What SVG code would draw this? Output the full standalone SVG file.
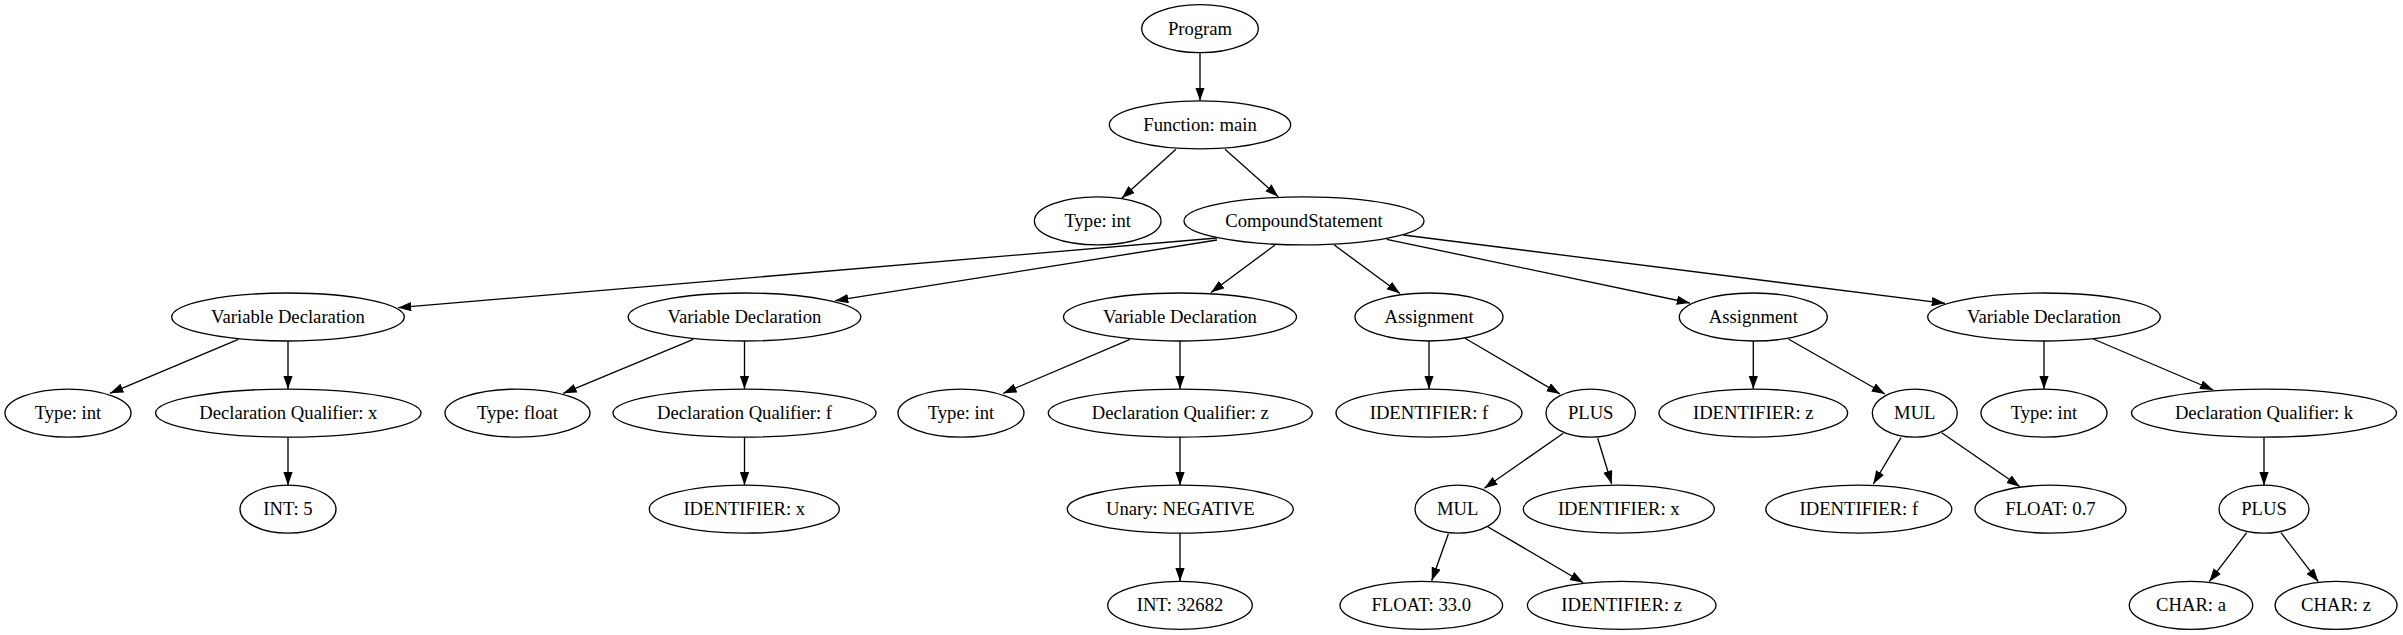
<svg xmlns="http://www.w3.org/2000/svg" width="2403" height="635" viewBox="0 0 2403 635">
<style>
.n ellipse{fill:none;stroke:#000;stroke-width:1.33}
.n text{font-family:"Liberation Serif","Times New Roman",serif;font-size:18.67px;text-anchor:middle;fill:#000}
.e line{stroke:#000;stroke-width:1.33;marker-end:url(#ah)}
</style>
<defs>
<marker id="ah" markerUnits="userSpaceOnUse" markerWidth="16" markerHeight="12" refX="13.3" refY="4.67" orient="auto">
<path d="M0,0 L13.3,4.67 L0,9.33 z" fill="#000"/>
</marker>
</defs>
<rect width="2403" height="635" fill="#fff"/>
<g id="edges" class="e">
<line x1="1200" y1="52.7" x2="1200" y2="100.8"/>
<line x1="1176" y1="149.3" x2="1121.7" y2="198.3"/>
<line x1="1225" y1="149.3" x2="1278.3" y2="196.7"/>
<line x1="1217" y1="238" x2="398" y2="307.7"/>
<line x1="1217" y1="240" x2="835" y2="300.7"/>
<line x1="1275" y1="245" x2="1211" y2="292.5"/>
<line x1="1334.3" y1="245" x2="1400" y2="293.5"/>
<line x1="1386.7" y1="239.3" x2="1690" y2="303"/>
<line x1="1403.3" y1="235" x2="1945" y2="303.3"/>
<line x1="238.3" y1="339.3" x2="110" y2="393.3"/>
<line x1="288" y1="341" x2="288" y2="389.1"/>
<line x1="288" y1="437.1" x2="288" y2="485.2"/>
<line x1="693.3" y1="339.3" x2="563.3" y2="393.3"/>
<line x1="744.5" y1="341" x2="744.5" y2="389.1"/>
<line x1="744.5" y1="437.1" x2="744.5" y2="485.2"/>
<line x1="1130" y1="339.3" x2="1003.3" y2="393.3"/>
<line x1="1180" y1="341" x2="1180" y2="389.1"/>
<line x1="1180" y1="437.1" x2="1180" y2="485.2"/>
<line x1="1180" y1="533.2" x2="1180" y2="581.3"/>
<line x1="1429" y1="341" x2="1429" y2="389.1"/>
<line x1="1465" y1="338.3" x2="1560" y2="394"/>
<line x1="1563.3" y1="433.3" x2="1484.3" y2="488.3"/>
<line x1="1597.7" y1="438.3" x2="1611.7" y2="484"/>
<line x1="1448.3" y1="534" x2="1431.7" y2="580.7"/>
<line x1="1487.7" y1="526.7" x2="1583.3" y2="582.7"/>
<line x1="1753.3" y1="341" x2="1753.3" y2="389.1"/>
<line x1="1788.3" y1="339" x2="1885" y2="394"/>
<line x1="1901" y1="437.7" x2="1873.3" y2="484"/>
<line x1="1941.7" y1="432.7" x2="2020" y2="486.7"/>
<line x1="2044" y1="341" x2="2044" y2="389.1"/>
<line x1="2093.3" y1="339" x2="2213.3" y2="390"/>
<line x1="2264" y1="437.1" x2="2264" y2="485.2"/>
<line x1="2246.7" y1="532.7" x2="2209.3" y2="581.7"/>
<line x1="2281" y1="532.7" x2="2318.3" y2="581.7"/>
</g>
<g id="program" class="n"><ellipse cx="1200" cy="28.7" rx="58.3" ry="24"/><text x="1200" y="34.7">Program</text></g>
<g id="function_main" class="n"><ellipse cx="1200" cy="124.8" rx="90.7" ry="24"/><text x="1200" y="130.8">Function: main</text></g>
<g id="type_int_main" class="n"><ellipse cx="1097.7" cy="220.9" rx="63.3" ry="24"/><text x="1097.7" y="226.9">Type: int</text></g>
<g id="compound" class="n"><ellipse cx="1304" cy="220.9" rx="120" ry="24"/><text x="1304" y="226.9">CompoundStatement</text></g>
<g id="vardecl1" class="n"><ellipse cx="288" cy="317" rx="116.3" ry="24"/><text x="288" y="323">Variable Declaration</text></g>
<g id="vardecl2" class="n"><ellipse cx="744.5" cy="317" rx="116.3" ry="24"/><text x="744.5" y="323">Variable Declaration</text></g>
<g id="vardecl3" class="n"><ellipse cx="1180" cy="317" rx="116.5" ry="24"/><text x="1180" y="323">Variable Declaration</text></g>
<g id="assign1" class="n"><ellipse cx="1429" cy="317" rx="74" ry="24"/><text x="1429" y="323">Assignment</text></g>
<g id="assign2" class="n"><ellipse cx="1753.3" cy="317" rx="74" ry="24"/><text x="1753.3" y="323">Assignment</text></g>
<g id="vardecl4" class="n"><ellipse cx="2044" cy="317" rx="116.3" ry="24"/><text x="2044" y="323">Variable Declaration</text></g>
<g id="type_int1" class="n"><ellipse cx="68" cy="413.1" rx="63" ry="24"/><text x="68" y="419.1">Type: int</text></g>
<g id="dq_x" class="n"><ellipse cx="288.3" cy="413.1" rx="132.7" ry="24"/><text x="288.3" y="419.1">Declaration Qualifier: x</text></g>
<g id="type_float" class="n"><ellipse cx="517.5" cy="413.1" rx="72.5" ry="24"/><text x="517.5" y="419.1">Type: float</text></g>
<g id="dq_f" class="n"><ellipse cx="744.5" cy="413.1" rx="131.5" ry="24"/><text x="744.5" y="419.1">Declaration Qualifier: f</text></g>
<g id="type_int3" class="n"><ellipse cx="961" cy="413.1" rx="63" ry="24"/><text x="961" y="419.1">Type: int</text></g>
<g id="dq_z" class="n"><ellipse cx="1180.3" cy="413.1" rx="132" ry="24"/><text x="1180.3" y="419.1">Declaration Qualifier: z</text></g>
<g id="id_f1" class="n"><ellipse cx="1429" cy="413.1" rx="93" ry="24"/><text x="1429" y="419.1">IDENTIFIER: f</text></g>
<g id="plus1" class="n"><ellipse cx="1590.7" cy="413.1" rx="44.7" ry="24"/><text x="1590.7" y="419.1">PLUS</text></g>
<g id="id_z1" class="n"><ellipse cx="1753.3" cy="413.1" rx="94.3" ry="24"/><text x="1753.3" y="419.1">IDENTIFIER: z</text></g>
<g id="mul2" class="n"><ellipse cx="1914.8" cy="413.1" rx="42.5" ry="24"/><text x="1914.8" y="419.1">MUL</text></g>
<g id="type_int4" class="n"><ellipse cx="2044" cy="413.1" rx="63" ry="24"/><text x="2044" y="419.1">Type: int</text></g>
<g id="dq_k" class="n"><ellipse cx="2264" cy="413.1" rx="132.5" ry="24"/><text x="2264" y="419.1">Declaration Qualifier: k</text></g>
<g id="int5" class="n"><ellipse cx="288" cy="509.2" rx="48" ry="24"/><text x="288" y="515.2">INT: 5</text></g>
<g id="id_x1" class="n"><ellipse cx="744.3" cy="509.2" rx="95" ry="24"/><text x="744.3" y="515.2">IDENTIFIER: x</text></g>
<g id="unary" class="n"><ellipse cx="1180.3" cy="509.2" rx="113" ry="24"/><text x="1180.3" y="515.2">Unary: NEGATIVE</text></g>
<g id="mul1" class="n"><ellipse cx="1457.7" cy="509.2" rx="42.7" ry="24"/><text x="1457.7" y="515.2">MUL</text></g>
<g id="id_x2" class="n"><ellipse cx="1618.8" cy="509.2" rx="95.5" ry="24"/><text x="1618.8" y="515.2">IDENTIFIER: x</text></g>
<g id="id_f2" class="n"><ellipse cx="1858.8" cy="509.2" rx="93" ry="24"/><text x="1858.8" y="515.2">IDENTIFIER: f</text></g>
<g id="float07" class="n"><ellipse cx="2050.5" cy="509.2" rx="75.5" ry="24"/><text x="2050.5" y="515.2">FLOAT: 0.7</text></g>
<g id="plus2" class="n"><ellipse cx="2264" cy="509.2" rx="45" ry="24"/><text x="2264" y="515.2">PLUS</text></g>
<g id="int32682" class="n"><ellipse cx="1180" cy="605.3" rx="72.3" ry="24"/><text x="1180" y="611.3">INT: 32682</text></g>
<g id="float33" class="n"><ellipse cx="1421.3" cy="605.3" rx="81.3" ry="24"/><text x="1421.3" y="611.3">FLOAT: 33.0</text></g>
<g id="id_z2" class="n"><ellipse cx="1621.7" cy="605.3" rx="94.3" ry="24"/><text x="1621.7" y="611.3">IDENTIFIER: z</text></g>
<g id="char_a" class="n"><ellipse cx="2191" cy="605.3" rx="61.7" ry="24"/><text x="2191" y="611.3">CHAR: a</text></g>
<g id="char_z" class="n"><ellipse cx="2336" cy="605.3" rx="61" ry="24"/><text x="2336" y="611.3">CHAR: z</text></g>
</svg>
